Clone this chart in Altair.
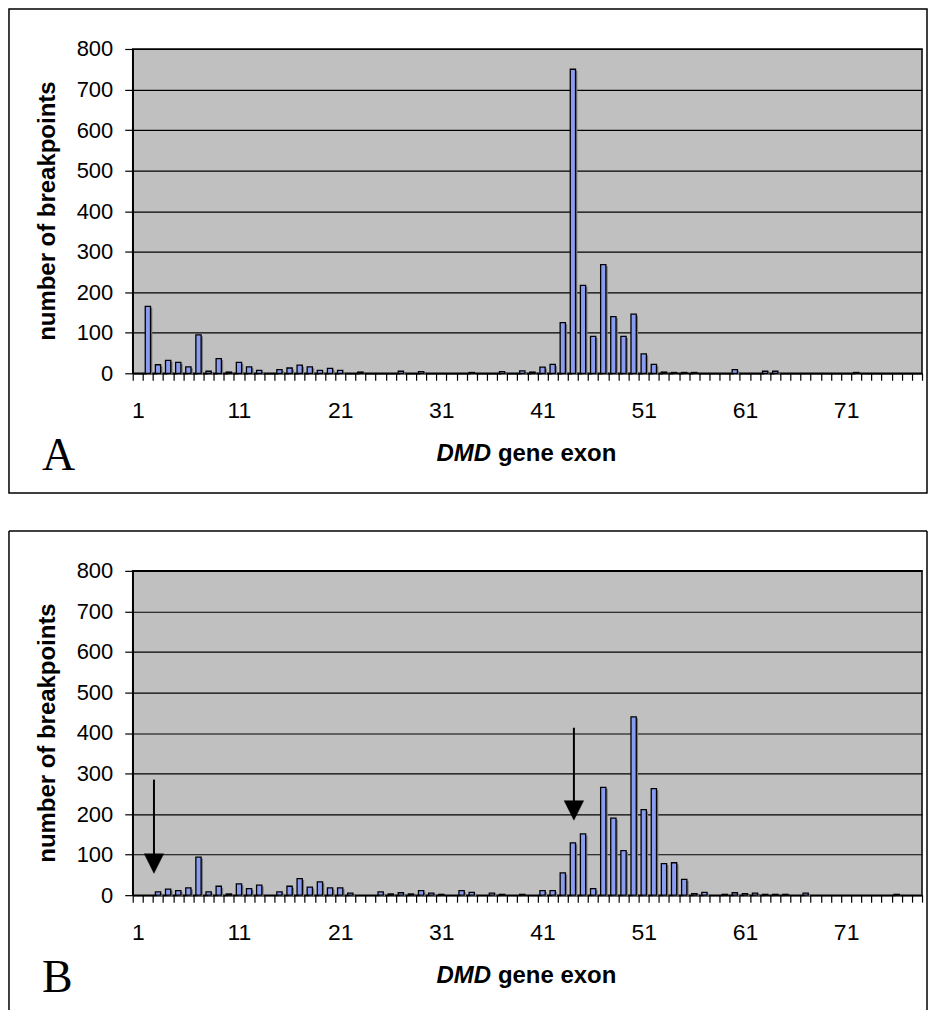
import altair as alt
import pandas as pd

exons = list(range(1, 79))

breakpoints_a = [
    0, 165, 21, 32, 27, 16, 95, 5, 36, 3,
    27, 16, 7, 0, 9, 13, 20, 16, 7, 12,
    7, 0, 3, 0, 0, 0, 5, 0, 4, 0,
    0, 0, 0, 2, 0, 0, 4, 0, 6, 3,
    15, 22, 125, 750, 217, 91, 268, 140, 91, 146,
    48, 22, 3, 2, 2, 2, 0, 0, 0, 9,
    0, 0, 5, 5, 0, 0, 0, 0, 0, 0,
    0, 2, 0, 0, 0, 0, 0, 0,
]

breakpoints_b = [
    0, 0, 8, 15, 11, 18, 94, 8, 22, 3,
    28, 16, 25, 0, 8, 22, 41, 20, 33, 18,
    18, 5, 0, 0, 8, 3, 6, 3, 11, 5,
    2, 0, 11, 7, 0, 5, 2, 0, 2, 0,
    11, 11, 55, 129, 151, 16, 266, 190, 110, 440,
    211, 263, 78, 80, 39, 4, 7, 0, 2, 6,
    4, 5, 2, 2, 2, 0, 5, 0, 0, 0,
    0, 0, 0, 0, 0, 2, 0, 0,
]

y_ticks = [0, 100, 200, 300, 400, 500, 600, 700, 800]

# arrows in panel B (exon position, shaft top value, head centre value)
arrow_exon = [2.6, 44.1]
arrow_top = [285, 413]
arrow_head = [78, 209]

PW, PH = 791, 325
BAR_FILL = "#8A9CF0"
FONT = "Liberation Sans"


def one():
    return pd.DataFrame({"k": [0]})


def panel(values, letter, arrows=False, frame_bottom=445, open_bottom=False):
    df = pd.DataFrame({"exon": exons, "n": values})
    df = df[df["n"] > 0]

    x = alt.X(
        "exon:O",
        scale=alt.Scale(domain=exons, paddingInner=0, paddingOuter=0),
        axis=alt.Axis(
            title=None,
            tickBand="extent",
            labelExpr="(datum.value - 1) % 10 == 0 ? datum.label : ''",
            labelAngle=0,
            labelOverlap=False,
            labelFontSize=23,
            labelPadding=19,
            tickSize=7,
            grid=False,
        ),
    )
    y = alt.Y(
        "n:Q",
        scale=alt.Scale(domain=[0, 800], nice=False, zero=True),
        axis=alt.Axis(
            title=None,
            values=y_ticks,
            grid=True,
            gridColor="black",
            gridWidth=1.2,
            labelFontSize=22,
            labelPadding=12,
            tickSize=8,
        ),
    )

    shadow = alt.Chart(df).mark_bar(
        width=alt.RelativeBandSize(0.52),
        fill="#7a7a7a",
        xOffset=1.8,
        yOffset=1.5,
    ).encode(x=x, y=y)

    bars = alt.Chart(df).mark_bar(
        width=alt.RelativeBandSize(0.52),
        fill=BAR_FILL,
        stroke="black",
        strokeWidth=1.3,
    ).encode(x=x, y=y)

    layers = []
    if letter == "A":
        # invisible box so that the figure's origin is the window's corner
        bg = alt.Chart(one()).mark_rect(opacity=0).encode(
            x=alt.value(-132), x2=alt.value(798), y=alt.value(-47), y2=alt.value(0)
        )
        layers.append(bg)

    if open_bottom:
        frame = alt.Chart(pd.DataFrame({
            "x": [-124, -124, 796], "x2": [796, -124, 796],
            "y": [-40, -40, -40], "y2": [-40, frame_bottom, frame_bottom],
        })).mark_rule(color="black", strokeWidth=1.5).encode(
            x=alt.X("x:Q", scale=None), x2="x2:Q",
            y=alt.Y("y:Q", scale=None), y2="y2:Q",
        )
    else:
        frame = alt.Chart(one()).mark_rect(
            fillOpacity=0, stroke="black", strokeWidth=1.5
        ).encode(
            x=alt.value(-124), x2=alt.value(796), y=alt.value(-40), y2=alt.value(frame_bottom)
        )
    layers.append(frame)

    ytitle = alt.Chart(one()).mark_text(
        text="number of breakpoints", angle=270, font=FONT, fontSize=24,
        fontWeight="bold", align="center", baseline="middle", color="black",
    ).encode(x=alt.value(-85), y=alt.value(PH / 2))

    xt1 = alt.Chart(one()).mark_text(
        text="DMD", font=FONT, fontSize=24, fontWeight="bold", fontStyle="italic",
        align="right", baseline="middle", color="black",
    ).encode(x=alt.value(359), y=alt.value(PH + 81))
    xt2 = alt.Chart(one()).mark_text(
        text="gene exon", font=FONT, fontSize=24, fontWeight="bold",
        align="left", baseline="middle", color="black",
    ).encode(x=alt.value(366), y=alt.value(PH + 81))

    lt = alt.Chart(one()).mark_text(
        text=letter, font="Liberation Serif", fontSize=46,
        align="left", baseline="alphabetic", color="black",
    ).encode(x=alt.value(-91), y=alt.value(PH + 97))

    layers += [shadow, bars, ytitle, xt1, xt2, lt]

    ch = alt.layer(*layers)

    if arrows:
        adf = pd.DataFrame({"ex": arrow_exon, "top": arrow_top, "head": arrow_head})
        ax = alt.X("ex:Q", scale=alt.Scale(domain=[0.5, 78.5], nice=False, zero=False), axis=None)
        ysc = alt.Scale(domain=[0, 800], nice=False)
        shaft = alt.Chart(adf).mark_rule(color="black", strokeWidth=2).encode(
            x=ax, y=alt.Y("top:Q", scale=ysc, axis=None), y2="head:Q",
        )
        head = alt.Chart(adf).mark_point(
            shape="M-1,-1L1,-1L0,1Z", filled=True, fill="black", stroke="black",
            strokeWidth=0.5, opacity=1, size=380,
        ).encode(
            x=ax, y=alt.Y("head:Q", scale=ysc, axis=None),
        )
        arr = alt.layer(shaft, head)
        ch = alt.layer(ch, arr).resolve_scale(x="independent").resolve_axis(y="independent")

    return ch.properties(width=PW, height=PH)


chart_a = panel(breakpoints_a, "A", frame_bottom=445)
chart_b = panel(breakpoints_b, "B", arrows=True, frame_bottom=440, open_bottom=True)

chart = alt.vconcat(chart_a, chart_b, spacing=198, bounds="flush").properties(
    padding=0, background="white"
).configure_view(
    fill="#C0C0C0", stroke="black", strokeWidth=1.5
).configure_axis(
    domainColor="black", domainWidth=1.5, tickColor="black", tickWidth=1.2,
    labelColor="black", labelFont=FONT,
)

chart.save("out.html", embed_options={"renderer": "svg", "actions": False})
